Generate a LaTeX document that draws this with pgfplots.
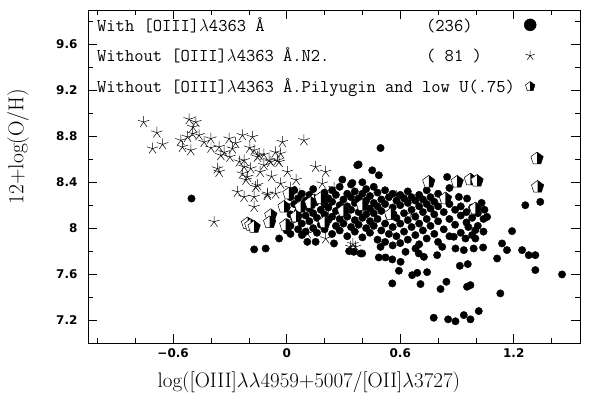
\documentclass[border=0pt]{standalone}
\usepackage{fontspec}
\usepackage{pgfplots}
\pgfplotsset{compat=1.18}
\newfontfamily\tickfont{DejaVu Sans}
\pgfdeclareplotmark{halfpent}{%
  \pgfpathmoveto{\pgfpointpolar{90}{\pgfplotmarksize}}%
  \pgfpathlineto{\pgfpointpolar{162}{\pgfplotmarksize}}%
  \pgfpathlineto{\pgfpointpolar{234}{\pgfplotmarksize}}%
  \pgfpathlineto{\pgfpointpolar{306}{\pgfplotmarksize}}%
  \pgfpathlineto{\pgfpointpolar{18}{\pgfplotmarksize}}%
  \pgfpathclose
  \pgfsetfillcolor{white}%
  \pgfusepathqfillstroke
  \pgfpathmoveto{\pgfpointpolar{90}{\pgfplotmarksize}}%
  \pgfpathlineto{\pgfpointpolar{18}{\pgfplotmarksize}}%
  \pgfpathlineto{\pgfpointpolar{306}{\pgfplotmarksize}}%
  \pgfpathlineto{\pgfpoint{0pt}{-0.809\pgfplotmarksize}}%
  \pgfpathclose
  \pgfsetfillcolor{black}%
  \pgfusepathqfill
}
\begin{document}
\begin{tikzpicture}
\begin{axis}[
  scale only axis, width=492bp, height=333bp,
  xmin=-1.05, xmax=1.55, ymin=7.0, ymax=9.9,
  axis line style={line width=0.7pt},
  xtick={-0.6,0,0.6,1.2}, xticklabels={−0.6,0,0.6,1.2},
  minor xtick={-1,-0.8,-0.4,-0.2,0.2,0.4,0.8,1.0,1.4},
  ytick={7.2,7.6,8.0,8.4,8.8,9.2,9.6}, yticklabels={7.2,7.6,8,8.4,8.8,9.2,9.6},
  minor ytick={7.4,7.8,8.2,8.6,9.0,9.4,9.8},
  major tick length=9bp, minor tick length=5bp,
  tick style={black, line width=0.6pt},
  ticklabel style={font=\tickfont\bfseries\fontsize{12bp}{14bp}\selectfont},
  yticklabel style={xshift=-7bp},
  xticklabel style={yshift=-2bp},
  xlabel={log([OIII]$\lambda\lambda$4959+5007/[OII]$\lambda$3727)},
  ylabel={12+log(O/H)},
  label style={font=\fontsize{21bp}{24bp}\selectfont},
  xlabel style={at={(axis description cs:0.449,-0.117)}, anchor=center},
  ylabel style={at={(axis description cs:-0.142,0.59)}, anchor=center, font=\fontsize{21.5bp}{25bp}\selectfont},
  legend plot pos=right,
  legend cell align=left,
  legend image code/.code={\draw[mark repeat=2,mark phase=2,#1] plot coordinates {(-0.1cm,0cm)(0cm,0cm)(0.1cm,0cm)};},
  legend style={at={(rel axis cs:0,1)}, anchor=north west, xshift=8bp, yshift=-6bp,
    draw=none, fill=none, inner sep=0pt, row sep=13.5bp, column sep=0pt,
    nodes={inner sep=1bp},
    font=\fontsize{18bp}{20bp}\selectfont\ttfamily},
]
\addplot[only marks, mark=*, mark size=3.7bp, black, mark options={fill=black},
  legend image post style={mark size=6bp}] coordinates {
(-0.503,8.258) (-0.172,7.815) (-0.111,7.823) (-0.040,7.910) (0.109,7.881) (0.153,7.881)
(0.250,7.867) (0.355,7.794) (0.391,7.780) (0.496,8.698) (0.373,8.548) (0.380,8.555)
(0.452,8.504) (0.487,8.461) (0.294,8.423) (0.347,8.394) (0.848,8.446) (0.910,8.272)
(0.953,8.258) (1.030,8.22) (1.045,8.16) (1.059,8.098) (1.261,8.200) (1.340,8.229)
(1.191,7.974) (1.138,7.867) (1.164,7.809) (1.112,7.736) (1.244,7.809) (1.279,7.765)
(1.314,7.765) (1.314,7.635) (1.455,7.597) (1.129,7.432) (0.558,7.519) (0.707,7.513)
(0.813,7.470) (0.844,7.533) (0.953,7.490) (0.971,7.504) (0.593,7.629) (0.663,7.591)
(0.690,7.611) (0.742,7.617) (0.915,7.672) (0.957,7.687) (0.777,7.220) (0.853,7.206)
(0.892,7.189) (0.936,7.243) (0.971,7.206) (1.015,7.278) (0.496,7.837) (0.487,7.745)
(0.522,7.745) (0.558,7.728) (0.602,7.707) (0.628,7.794) (0.681,7.823) (0.698,7.780)
(0.725,7.750) (0.795,7.765) (0.822,7.837) (0.892,7.823) (0.936,7.809) (0.988,7.823)
(1.038,7.832) (0.997,7.910) (0.945,7.910) (0.883,7.925) (0.997,7.983) (0.960,8.010)
(0.399,7.780) (0.330,7.800)
(0.00,8.05) (0.00,8.18) (0.00,7.98)
(0.02,8.12) (0.02,8.27) (0.02,7.95) (0.02,8.02)
(0.04,8.08) (0.04,8.21) (0.04,8.33)
(0.06,7.99) (0.06,8.15) (0.06,8.26)
(0.08,8.04) (0.08,8.19) (0.08,8.30) (0.08,7.94)
(0.10,8.11) (0.10,8.24) (0.10,7.97)
(0.12,8.06) (0.12,8.17) (0.12,8.29)
(0.14,8.00) (0.14,8.13) (0.14,8.22) (0.14,8.34)
(0.16,7.96) (0.16,8.09) (0.16,8.25)
(0.18,8.03) (0.18,8.16) (0.18,8.28)
(0.20,7.99) (0.20,8.12) (0.20,8.21) (0.20,8.31)
(0.22,8.07) (0.22,8.18) (0.22,8.26)
(0.24,7.95) (0.24,8.10) (0.24,8.23) (0.24,8.33)
(0.26,8.02) (0.26,8.15) (0.26,8.29)
(0.28,7.98) (0.28,8.08) (0.28,8.20) (0.28,8.36)
(0.30,8.04) (0.30,8.13) (0.30,8.25)
(0.32,7.93) (0.32,8.10) (0.32,8.19) (0.32,8.30)
(0.34,8.01) (0.34,8.16) (0.34,8.27) (0.34,8.38)
(0.36,7.97) (0.36,8.07) (0.36,8.22) (0.36,8.32)
(0.38,8.03) (0.38,8.14) (0.38,8.26)
(0.40,7.92) (0.40,8.09) (0.40,8.19) (0.40,8.30) (0.40,8.40)
(0.42,8.00) (0.42,8.12) (0.42,8.24) (0.42,8.34)
(0.44,7.96) (0.44,8.06) (0.44,8.17) (0.44,8.28)
(0.46,8.02) (0.46,8.13) (0.46,8.22) (0.46,8.36)
(0.48,7.90) (0.48,8.08) (0.48,8.19) (0.48,8.31)
(0.50,7.98) (0.50,8.15) (0.50,8.25)
(0.52,7.88) (0.52,8.04) (0.52,8.21) (0.52,8.33)
(0.54,7.95) (0.54,8.11) (0.54,8.27)
(0.56,7.85) (0.56,8.01) (0.56,8.18) (0.56,8.30)
(0.58,7.93) (0.58,8.09) (0.58,8.24)
(0.60,7.87) (0.60,8.04) (0.60,8.20) (0.60,8.29)
(0.62,7.97) (0.62,8.13) (0.62,8.26)
(0.64,7.90) (0.64,8.07) (0.64,8.22) (0.64,8.32)
(0.66,8.01) (0.66,8.16) (0.66,8.27)
(0.68,7.94) (0.68,8.10) (0.68,8.24)
(0.70,7.86) (0.70,8.04) (0.70,8.19) (0.70,8.29)
(0.72,7.98) (0.72,8.14) (0.72,8.25)
(0.74,7.91) (0.74,8.08) (0.74,8.21) (0.74,8.33)
(0.76,8.02) (0.76,8.17) (0.76,8.27)
(0.78,7.95) (0.78,8.12) (0.78,8.23)
(0.80,7.88) (0.80,8.06) (0.80,8.19) (0.80,8.30)
(0.83,7.99) (0.83,8.14) (0.83,8.25)
(0.86,7.93) (0.86,8.08) (0.86,8.21) (0.86,8.35)
(0.89,8.03) (0.89,8.16)
(0.92,7.96) (0.92,8.11) (0.92,8.19)
(0.95,8.05) (0.95,8.14)
(0.98,7.94) (0.98,8.09) (0.98,8.18)
(1.01,8.02) (1.01,8.13)
(1.04,7.97) (1.04,8.08)
};
\addlegendentry{\makebox[329bp][l]{With [OIII]$\lambda$4363 Å}\makebox[97bp][l]{(236)}}
\addplot[only marks, mark=star, mark size=6bp, black, line width=0.5pt,
  legend image post style={mark size=5bp}] coordinates {
(-0.756,8.924) (-0.686,8.832) (-0.709,8.693) (-0.656,8.730) (-0.515,8.948) (-0.480,8.924)
(-0.495,8.880) (-0.559,8.765) (-0.524,8.794) (-0.498,8.823) (-0.463,8.809) (-0.507,8.678)
(-0.551,8.707) (-0.436,8.750) (-0.401,8.780) (-0.357,8.707) (-0.348,8.635) (-0.330,8.660)
(-0.304,8.780) (-0.287,8.693) (-0.234,8.809) (-0.181,8.794) (-0.172,8.678) (-0.155,8.620)
(-0.366,8.519) (-0.357,8.490) (-0.225,8.591) (-0.225,8.533) (-0.234,8.475) (-0.207,8.446)
(-0.215,8.420) (-0.120,8.548) (-0.084,8.577) (-0.049,8.591) (-0.146,8.635) (-0.093,8.591)
(-0.040,8.577) (-0.032,8.649) (-0.023,8.750) (0.091,8.765) (0.004,8.490) (-0.155,8.374)
(-0.260,8.316) (-0.225,8.272) (-0.172,8.272) (-0.102,8.301) (-0.058,8.301) (-0.032,8.388)
(-0.164,8.359) (-0.102,8.287) (-0.172,8.185) (-0.384,8.055) (0.153,8.533) (0.206,8.490)
(0.188,8.388) (0.109,7.954) (0.206,7.910) (0.338,7.837) (0.364,7.837) (0.350,7.860)
(0.050,8.42) (0.020,8.35) (-0.06,8.66) (-0.120,8.64) (-0.195,8.70) (-0.27,8.74)
(-0.40,8.70) (-0.30,8.62) (-0.14,8.49) (-0.08,8.45) (0.07,8.30) (0.12,8.25)
(0.25,8.35) (0.30,8.18) (0.45,8.05) (0.58,8.28) (0.66,8.12) (-0.01,8.20)
(0.22,8.10) (-0.25,8.58) (-0.19,8.52)
};
\addlegendentry{\makebox[329bp][l]{Without [OIII]$\lambda$4363 Å.N2.}\makebox[97bp][l]{( 81 )}}
\addplot[only marks, mark=halfpent, mark size=6.5bp, black, line width=0.5pt,
  legend image post style={mark size=5bp}] coordinates {
(-0.207,8.041) (-0.190,8.026) (-0.172,8.010) (-0.084,8.113) (-0.090,8.05) (-0.005,8.026)
(0.012,8.301) (-0.014,8.185) (0.074,8.185) (0.144,8.243) (0.127,8.22) (0.180,8.26)
(0.05,8.10) (0.20,8.05) (0.30,8.15) (0.40,8.20) (0.55,8.12) (0.751,8.403)
(0.901,8.403) (0.971,8.423) (1.006,8.411) (0.839,8.258) (0.997,8.171) (1.323,8.606)
(1.326,8.359)
};
\addlegendentry{\makebox[426bp][l]{Without [OIII]$\lambda$4363 Å.Pilyugin and low U(.75)}}
\end{axis}
\path ([shift={(-88bp,-50bp)}]current axis.south west) rectangle ([shift={(12bp,10bp)}]current axis.north east);
\end{tikzpicture}
\end{document}
